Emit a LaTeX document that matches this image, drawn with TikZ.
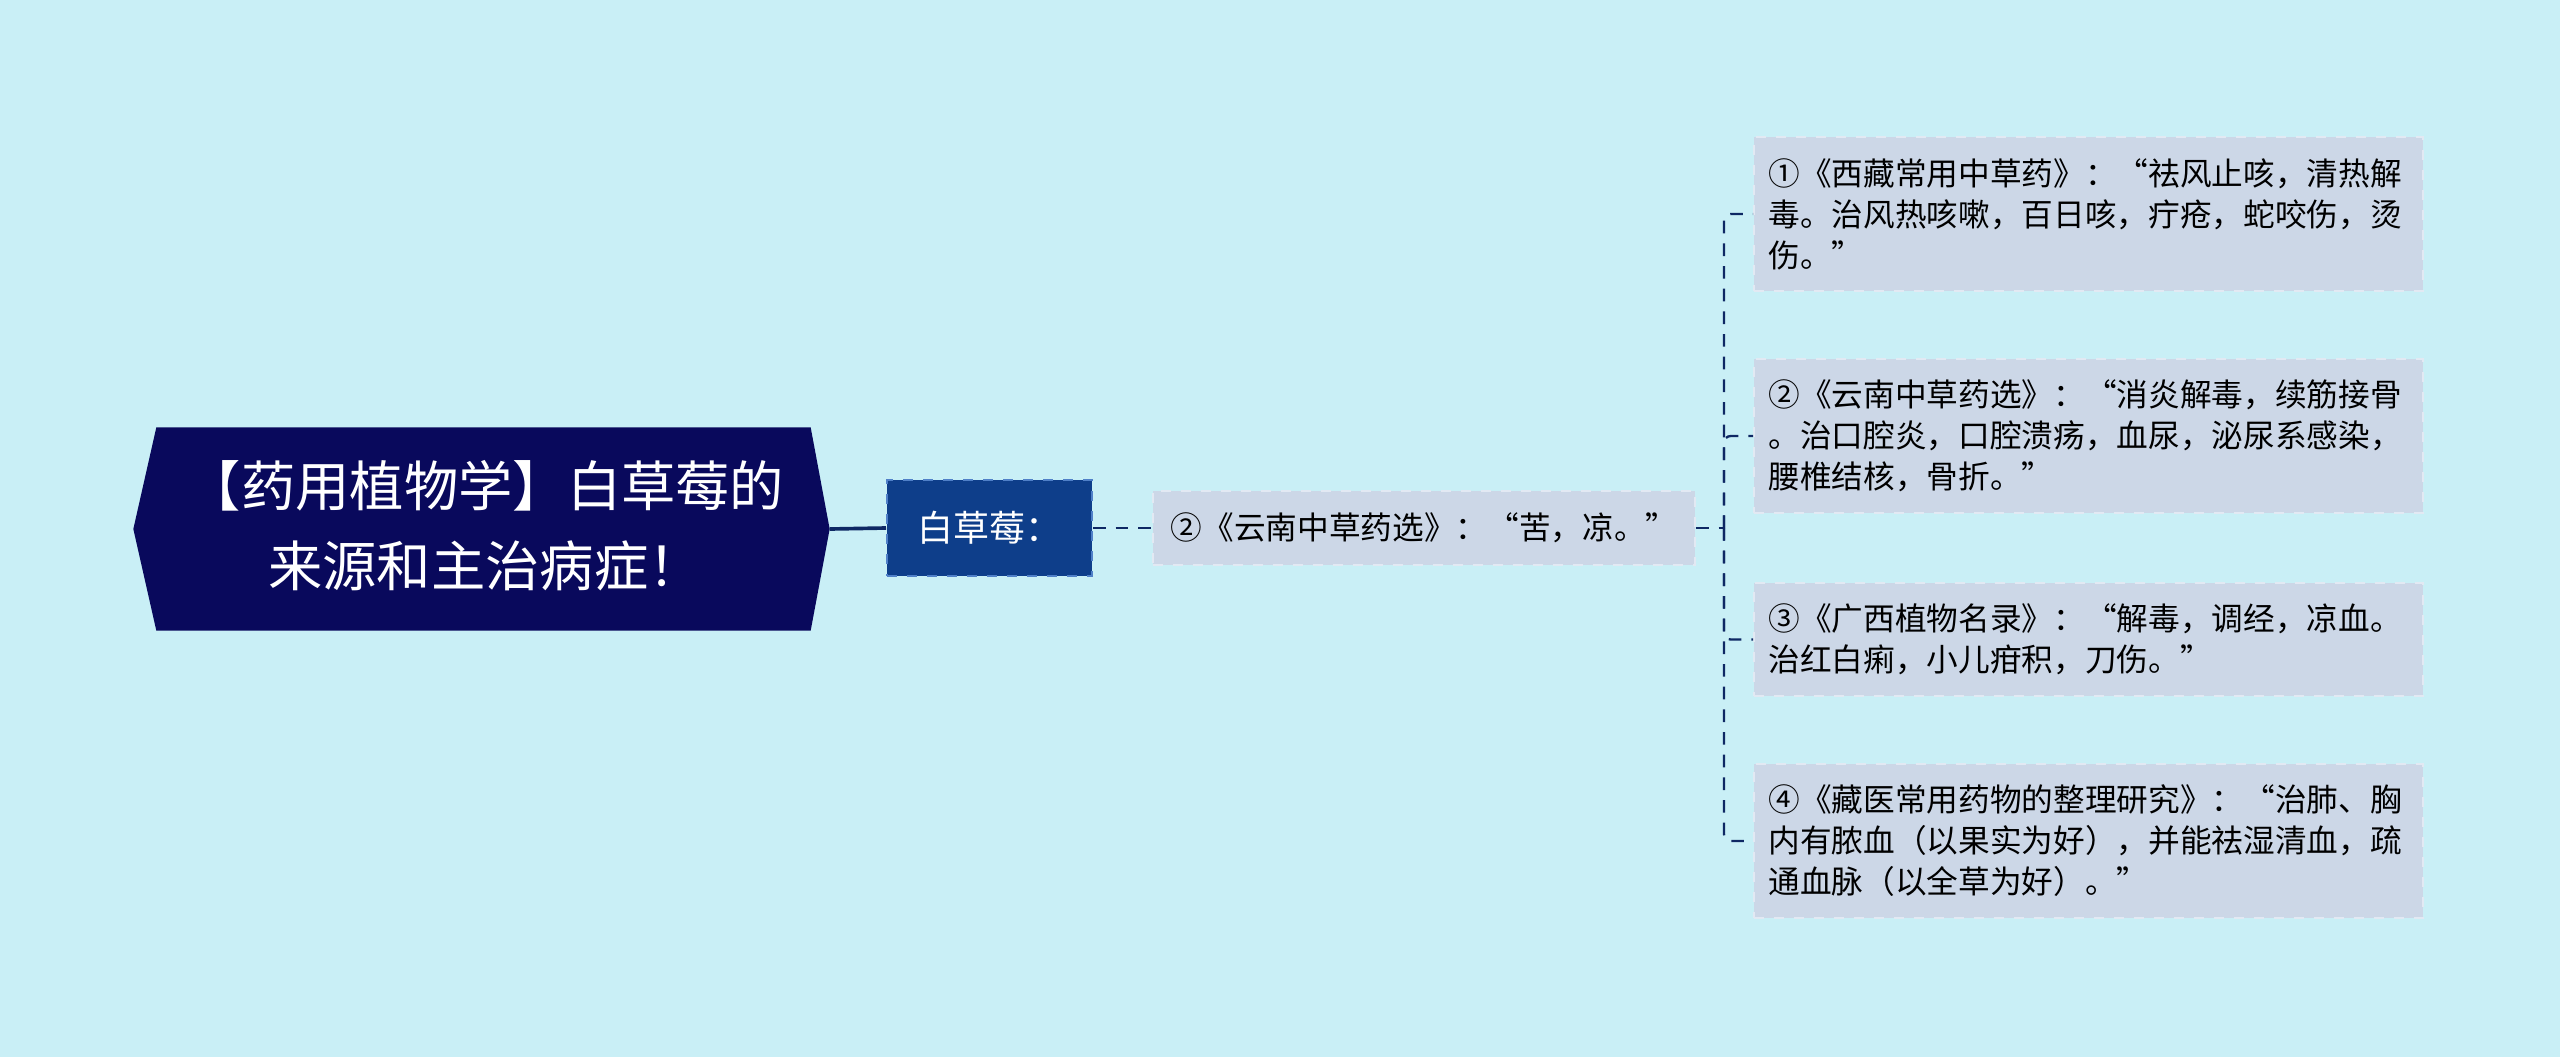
\documentclass[tikz,border=0pt]{standalone}
\usepackage{fontspec}
\newfontfamily\cjk{Noto Sans CJK SC}
\usepackage{tikz}

\definecolor{bgcyan}{RGB}{201,239,246}
\definecolor{rootnavy}{RGB}{9,9,92}
\definecolor{subblue}{RGB}{14,62,138}
\definecolor{subedge}{RGB}{80,128,200}
\definecolor{leafgray}{RGB}{204,215,231}
\definecolor{leafedge}{RGB}{226,233,243}
\definecolor{linknavy}{RGB}{14,40,100}

\begin{document}
\begin{tikzpicture}[x=0.3pt,y=-0.3pt,
		rootshape/.style={minimum width=695*0.3pt,minimum height=202*0.3pt,inner sep=0pt},
		roottext/.style={font=\cjk\fontsize{16.3pt}{24pt}\selectfont,text=white,align=center,inner sep=0pt},
		subnode/.style={fill=subblue,draw=subedge,dashed,line width=0.6pt,font=\cjk\fontsize{10.8pt}{13pt}\selectfont,text=white,minimum width=205*0.3pt,minimum height=96*0.3pt,inner sep=0pt},
		midnode/.style={fill=leafgray,draw=leafedge,dashed,line width=0.5pt,font=\cjk\fontsize{9.5pt}{12.3pt}\selectfont,text=black,minimum width=542*0.3pt,minimum height=74*0.3pt,inner sep=0pt},
		leaf/.style={fill=leafgray,draw=leafedge,dashed,line width=0.5pt,font=\cjk\fontsize{9.5pt}{12.3pt}\selectfont,text=black,text width=192pt,align=left,inner xsep=4.35pt,inner ysep=0pt},
		rootlink/.style={draw=linknavy,line width=1.1pt},
		link/.style={draw=linknavy,line width=0.7pt,dash pattern=on 3.8pt off 3pt,rounded corners=2pt}]
		\useasboundingbox (0,0) rectangle (2560,1057);
		\fill[bgcyan] (0,0) rectangle (2560,1057);

		% root hexagon
		\node[rootshape] (root) at (481.5,529) {};
		\fill[rootnavy] (root.west) -- ([xshift=23*0.3pt]root.north west) -- ([xshift=-19*0.3pt]root.north east) -- (root.east) -- ([xshift=-19*0.3pt]root.south east) -- ([xshift=23*0.3pt]root.south west) -- cycle;
		\node[roottext] (title) at ([xshift=4*0.3pt,yshift=1pt]root.center) {【药用植物学】白草莓的\\来源和主治病症！};

		\node[subnode] (bai) at (989.5,528) {白草莓：};
		\node[midnode] (mid) at (1424,528) {②《云南中草药选》：“苦，凉。”};

		\node[leaf,minimum height=154*0.3pt] (r1) at (2088.5,214) {①《西藏常用中草药》：“祛风止咳，清热解\\毒。治风热咳嗽，百日咳，疔疮，蛇咬伤，烫\\伤。”};
		\node[leaf,minimum height=154*0.3pt] (r2) at (2088.5,436) {②《云南中草药选》：“消炎解毒，续筋接骨\\。治口腔炎，口腔溃疡，血尿，泌尿系感染，\\腰椎结核，骨折。”};
		\node[leaf,minimum height=113*0.3pt] (r3) at (2088.5,639.5) {③《广西植物名录》：“解毒，调经，凉血。\\治红白痢，小儿疳积，刀伤。”};
		\node[leaf,minimum height=154*0.3pt] (r4) at (2088.5,841) {④《藏医常用药物的整理研究》：“治肺、胸\\内有脓血（以果实为好），并能祛湿清血，疏\\通血脉（以全草为好）。”};

		\coordinate (trunk) at (1724,528);

		\draw[rootlink] (root.east) -- (bai.west);
		\draw[link] (bai.east) -- (mid.west);
		\draw[link] (mid.east) -- (trunk);
		\foreach \n in {r1,r2,r3,r4}
			\draw[link] (trunk) |- (\n.west);
	\end{tikzpicture}
\end{document}
